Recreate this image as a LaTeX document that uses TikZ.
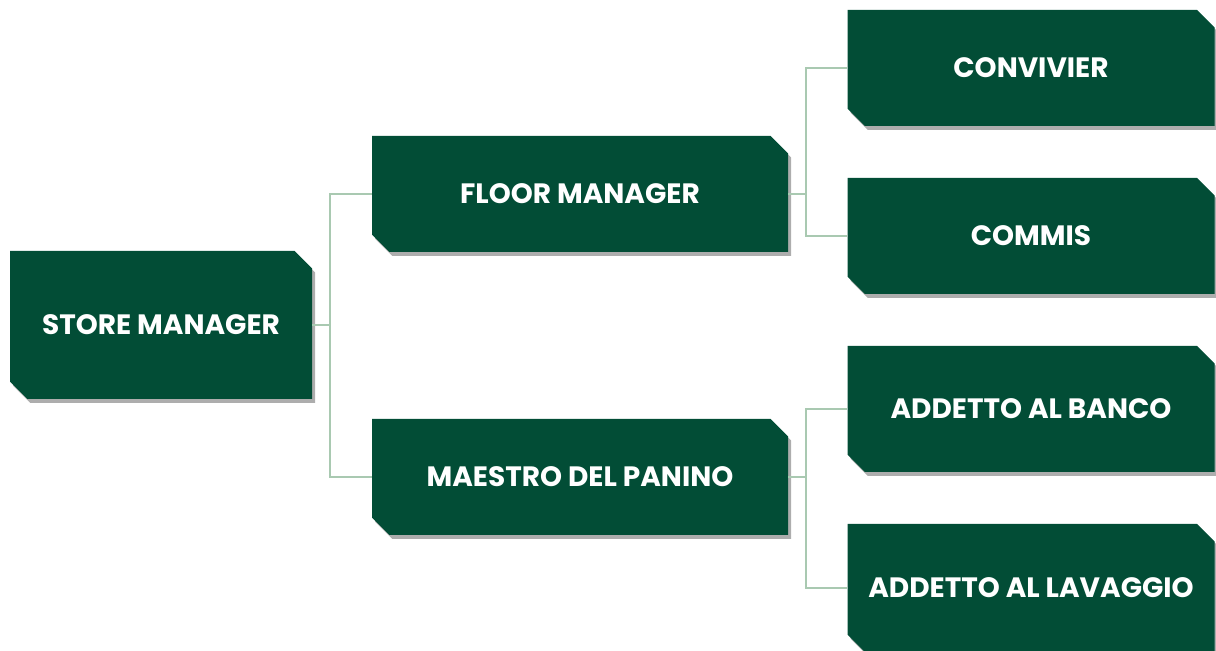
\documentclass[tikz,border=0pt]{standalone}
\usepackage{fontspec}
\setmainfont{Poppins}
\usetikzlibrary{shapes.misc,shadows}
\definecolor{vertfonce}{HTML}{024D36}
\definecolor{vertclair}{HTML}{A9C9B1}

\begin{document}
\begin{tikzpicture}[x=0.5pt,y=-0.5pt,
  poste/.style={chamfered rectangle,chamfered rectangle corners={north east,south west},
    chamfered rectangle xsep=13.5pt,fill=vertfonce,text=white,inner sep=0pt,
    font=\bfseries\fontsize{14}{16}\selectfont,
    drop shadow={shadow xshift=1.5pt,shadow yshift=-2pt,opacity=.4,fill=black!80}},
  lien/.style={draw=vertclair,line width=1pt}]
\useasboundingbox (0,0) rectangle (1216,651);
\node[poste,chamfered rectangle xsep=17pt,minimum width=151pt,minimum height=74pt] (sm) at (161,325) {STORE MANAGER};
\node[poste,minimum width=208pt,minimum height=58pt] (fm) at (580,194) {FLOOR MANAGER};
\node[poste,minimum width=208pt,minimum height=58pt] (mp) at (580,477) {MAESTRO DEL PANINO};
\node[poste,minimum width=183.5pt,minimum height=58pt] (cv) at (1031,68) {CONVIVIER};
\node[poste,minimum width=183.5pt,minimum height=58pt] (cm) at (1031,236) {COMMIS};
\node[poste,minimum width=183.5pt,minimum height=63pt] (ab) at (1031,409) {ADDETTO AL BANCO};
\node[poste,minimum width=183.5pt,minimum height=64pt] (al) at (1031,588) {ADDETTO AL LAVAGGIO};
\coordinate (j1) at (330,325);
\coordinate (j2) at (806,194);
\coordinate (j3) at (806,477);
\draw[lien] (sm.east) -- (j1);
\draw[lien] (fm.west) -| (j1) |- (mp.west);
\draw[lien] (fm.east) -- (j2);
\draw[lien] (cv.west) -| (j2) |- (cm.west);
\draw[lien] (mp.east) -- (j3);
\draw[lien] (ab.west) -| (j3) |- (al.west);
\end{tikzpicture}
\end{document}
